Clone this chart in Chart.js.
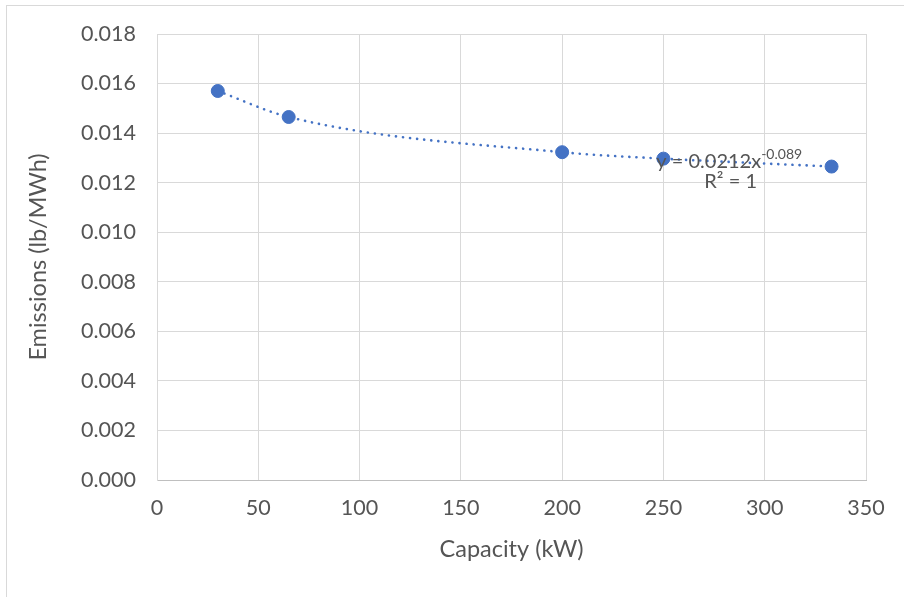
<!DOCTYPE html>
<html>
<head>
<meta charset="utf-8">
<script src="https://cdn.jsdelivr.net/npm/chart.js@4"></script>
<style>
  html, body { margin: 0; padding: 0; background: #fff; }
  #wrap { width: 904px; height: 597px; position: relative; }
</style>
</head>
<body>
<div id="wrap"><canvas id="chart"></canvas></div>
<script>
// values
var capacityKW = [30, 65, 200, 250, 333];
var emissions = [0.0157, 0.01465, 0.01323, 0.01297, 0.01265];
var trendLabel = "y = 0.0212x";
var trendExp = "-0.089";
var r2Label = "R² = 1";

var textColor = "#555555";
var blue = "#4472C4";
var fontName = "Lato, 'Open Sans', sans-serif";

var points = capacityKW.map(function (x, i) {
  return { x: x, y: emissions[i] };
});

// light frame round the chart (only left and top show in the picture)
var framePlugin = {
  id: "frame",
  beforeDraw: function (chart) {
    var ctx = chart.ctx;
    ctx.save();
    ctx.fillStyle = "#fff";
    ctx.fillRect(0, 0, chart.width, chart.height);
    ctx.strokeStyle = "#d9d9d9";
    ctx.lineWidth = 1;
    ctx.strokeRect(6.5, 5.5, chart.width, chart.height);
    ctx.restore();
  }
};

// trendline equation label
var eqPlugin = {
  id: "equation",
  afterDatasetsDraw: function (chart) {
    var ctx = chart.ctx;
    var xs = chart.scales.x;
    var ys = chart.scales.y;
    var x0 = xs.getPixelForValue(246.5);
    var y0 = ys.getPixelForValue(0.01259);
    ctx.save();
    ctx.fillStyle = textColor;
    ctx.textBaseline = "alphabetic";
    ctx.textAlign = "left";
    ctx.font = "20px " + fontName;
    ctx.fillText(trendLabel, x0, y0);
    var w = ctx.measureText(trendLabel).width;
    ctx.font = "14px " + fontName;
    ctx.fillText(trendExp, x0 + w, y0 - 9);
    ctx.font = "20px " + fontName;
    ctx.fillText(r2Label, x0 + 48, y0 + 20);
    ctx.restore();
  }
};

new Chart(document.getElementById("chart"), {
  type: "scatter",
  data: {
    datasets: [
      {
        label: "Emissions",
        data: points,
        backgroundColor: blue,
        borderColor: blue,
        pointRadius: 6.5,
        pointHoverRadius: 6.5,
        showLine: false,
        order: 1
      },
      {
        label: "Power trend",
        data: points,
        showLine: true,
        pointRadius: 0,
        borderColor: blue,
        borderWidth: 2.6,
        borderDash: [0.1, 7],
        borderCapStyle: "round",
        cubicInterpolationMode: "monotone",
        fill: false,
        order: 2
      }
    ]
  },
  plugins: [framePlugin, eqPlugin],
  options: {
    responsive: true,
    maintainAspectRatio: false,
    animation: false,
    layout: { padding: { left: 20, top: 34, right: 38, bottom: 20 } },
    plugins: {
      legend: { display: false },
      tooltip: { enabled: false }
    },
    scales: {
      x: {
        type: "linear",
        min: 0,
        max: 350,
        ticks: { stepSize: 50, color: textColor, font: { family: fontName, size: 21.5 }, padding: 15 },
        grid: { color: "#d9d9d9", lineWidth: 1, drawTicks: false },
        border: { color: "#bfbfbf", width: 1 },
        title: {
          display: true,
          text: "Capacity (kW)",
          color: textColor,
          font: { family: fontName, size: 23.5 },
          padding: { top: 0, bottom: 13 }
        },
        afterFit: function (scale) { scale.height = 97; }
      },
      y: {
        type: "linear",
        min: 0,
        max: 0.018,
        ticks: {
          stepSize: 0.002,
          color: textColor,
          font: { family: fontName, size: 21.5 },
          padding: 21,
          callback: function (v) { return v.toFixed(3); }
        },
        grid: { color: "#d9d9d9", lineWidth: 1, drawTicks: false },
        border: { color: "#d9d9d9", width: 1 },
        title: {
          display: true,
          text: "Emissions (lb/MWh)",
          color: textColor,
          font: { family: fontName, size: 23.5 },
          padding: { top: 4, bottom: 0 }
        },
        afterFit: function (scale) { scale.width = 137; }
      }
    }
  }
});
</script>
</body>
</html>
